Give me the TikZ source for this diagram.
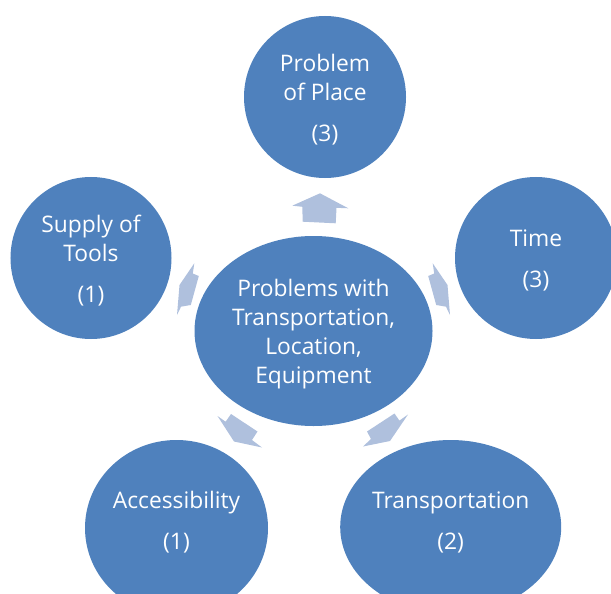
\documentclass[tikz,border=0pt]{standalone}
\usepackage{fontspec}
\setmainfont{Open Sans}
\usetikzlibrary{shapes.geometric}
\definecolor{bubblefill}{HTML}{4F81BD}
\definecolor{arrowfill}{HTML}{AFC0DD}
\begin{document}
\begin{tikzpicture}[x=1bp,y=-1bp,
  bubble/.style={ellipse, fill=bubblefill, draw=none, inner sep=0pt},
  bubbletext/.style={text=white, align=center, inner sep=0pt, font=\fontsize{22.8bp}{29bp}\selectfont},
  blockarrow/.style={fill=arrowfill, draw=none}]
\useasboundingbox (0,0) rectangle (611,594);
\clip (0,0) rectangle (611,594);

% satellites and centre
\node[bubble, minimum width=162bp, minimum height=162bp] (place) at (325,97) {};
\node[bubbletext] (placetxt) at ([yshift=-3bp]place.center) {Problem\\of Place\\[12bp](3)};
\node[bubble, minimum width=161bp, minimum height=162bp] (tools) at (91,258) {};
\node[bubbletext] (toolstxt) at ([yshift=-3bp]tools.center) {Supply of\\Tools\\[12bp](1)};
\node[bubble, minimum width=162bp, minimum height=162bp] (time) at (536,258) {};
\node[bubbletext] (timetxt) at ([yshift=-2bp]time.center) {Time\\[12bp](3)};
\node[bubble, minimum width=238bp, minimum height=190bp] (hub) at (313.5,331) {};
\node[bubbletext] (hubtxt) at ([yshift=-3bp]hub.center) {Problems with\\Transportation,\\Location,\\Equipment};
\node[bubble, minimum width=183bp, minimum height=176bp] (access) at (176.5,528) {};
\node[bubbletext] (accesstxt) at ([yshift=6bp]access.center) {Accessibility\\[12bp](1)};
\node[bubble, minimum width=221bp, minimum height=174bp] (transp) at (450.7,527) {};
\node[bubbletext] (transptxt) at ([yshift=5bp]transp.center) {Transportation\\[12bp](2)};

% block arrows pointing outward from the hub
\fill[blockarrow] (320,193.3) -- (348.3,208.3) -- (336.5,207.8) -- (335.7,223.3)
  -- (302.7,221.7) -- (302.3,206.8) -- (292.3,205.7) -- cycle;
\fill[blockarrow] (194.3,263.3) -- (192.8,273.5) -- (198.8,276) -- (190.8,305)
  -- (181,306.7) -- (177,315) -- (179.5,285) -- cycle;
\fill[blockarrow] (432.7,263.3) -- (434.2,273.5) -- (428.2,276) -- (436.2,305)
  -- (446,306.7) -- (450,315) -- (447.5,285) -- cycle;
\fill[blockarrow] (217.5,416) -- (225.6,421.7) -- (231,414) -- (257.5,431.5)
  -- (252,440) -- (262,447.5) -- (234,441.5) -- cycle;
\fill[blockarrow] (408,414.5) -- (399.4,420.6) -- (394.5,413.5) -- (367,431.5)
  -- (371,439) -- (363,446.5) -- (390,441) -- cycle;
\end{tikzpicture}
\end{document}
